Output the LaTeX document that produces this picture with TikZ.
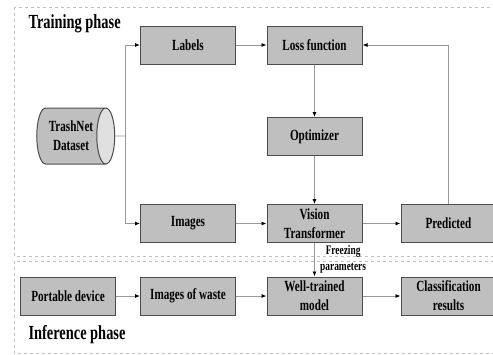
\documentclass[tikz,border=0pt]{standalone}
\usepackage{fontspec}
\setmainfont{Liberation Serif}[FakeStretch=0.72]
\usetikzlibrary{shapes.geometric,arrows.meta}
\begin{document}
\begin{tikzpicture}[x=1pt, y=-1pt,
            box/.style={draw=black!70, line width=1pt, fill=black!25, rectangle, minimum width=95pt,
                        minimum height=38pt, inner sep=1pt, align=center,
                        font=\fontsize{15.5}{19}\selectfont\bfseries},
            line/.style={draw=black!40, line width=0.8pt},
            arrow/.style={line, -{Latex[length=5pt, width=4pt, black]}},
            phase/.style={draw=black!25, dashed, line width=0.8pt},
            title/.style={font=\fontsize{20}{24}\selectfont\bfseries, anchor=west}]
            \useasboundingbox (0,0) rectangle (493,354);
            % two phases
            \draw[phase] (14,7) rectangle (510,256);
            \draw[phase] (14,261) rectangle (510,353);
            \node[title] (training) at (25,24) {Training phase};
            \node[title] (inference) at (25,335) {Inference phase};

            \node[draw=black!70, line width=1pt, cylinder, shape aspect=0.6, cylinder uses custom fill,
                  cylinder body fill=black!25, cylinder end fill=black!12, minimum width=56pt,
                  minimum height=78pt, inner sep=0pt, align=center,
                  font=\fontsize{15.5}{19}\selectfont\bfseries] (dataset) at (71,136) {TrashNet\\Dataset};
            \coordinate (split) at (125,136);

            \node[box] (labels) at (188,45) {Labels};
            \node[box] (loss) at (314.5,45) {Loss function};
            \node[box] (optimizer) at (314.5,136.5) {Optimizer};
            \node[box] (images) at (188,223.5) {Images};
            \node[box] (vit) at (314.5,223.5) {Vision\\Transformer};
            \node[box] (predicted) at (448.5,223.5) {Predicted};

            \node[box] (portable) at (68,296) {Portable device};
            \node[box] (waste) at (188,296) {Images of waste};
            \node[box] (model) at (314.5,296) {Well-trained\\model};
            \node[box] (results) at (448.5,296) {Classification\\results};

            \draw[line] (dataset.east) -- (split);
            \draw[arrow] (split) |- (labels.west);
            \draw[arrow] (split) |- (images.west);
            \draw[arrow] (labels) -- (loss);
            \draw[arrow] (loss) -- (optimizer);
            \draw[arrow] (optimizer) -- (vit);
            \draw[arrow] (images) -- (vit);
            \draw[arrow] (vit) -- (predicted);
            \draw[arrow] (predicted.north) |- (loss.east);
            \draw[arrow] (vit) -- node[right=2pt, align=center, font=\fontsize{13}{16}\selectfont\bfseries] {Freezing\\parameters} (model);

            \draw[arrow] (portable) -- (waste);
            \draw[arrow] (waste) -- (model);
            \draw[arrow] (model) -- (results);
        \end{tikzpicture}
\end{document}
